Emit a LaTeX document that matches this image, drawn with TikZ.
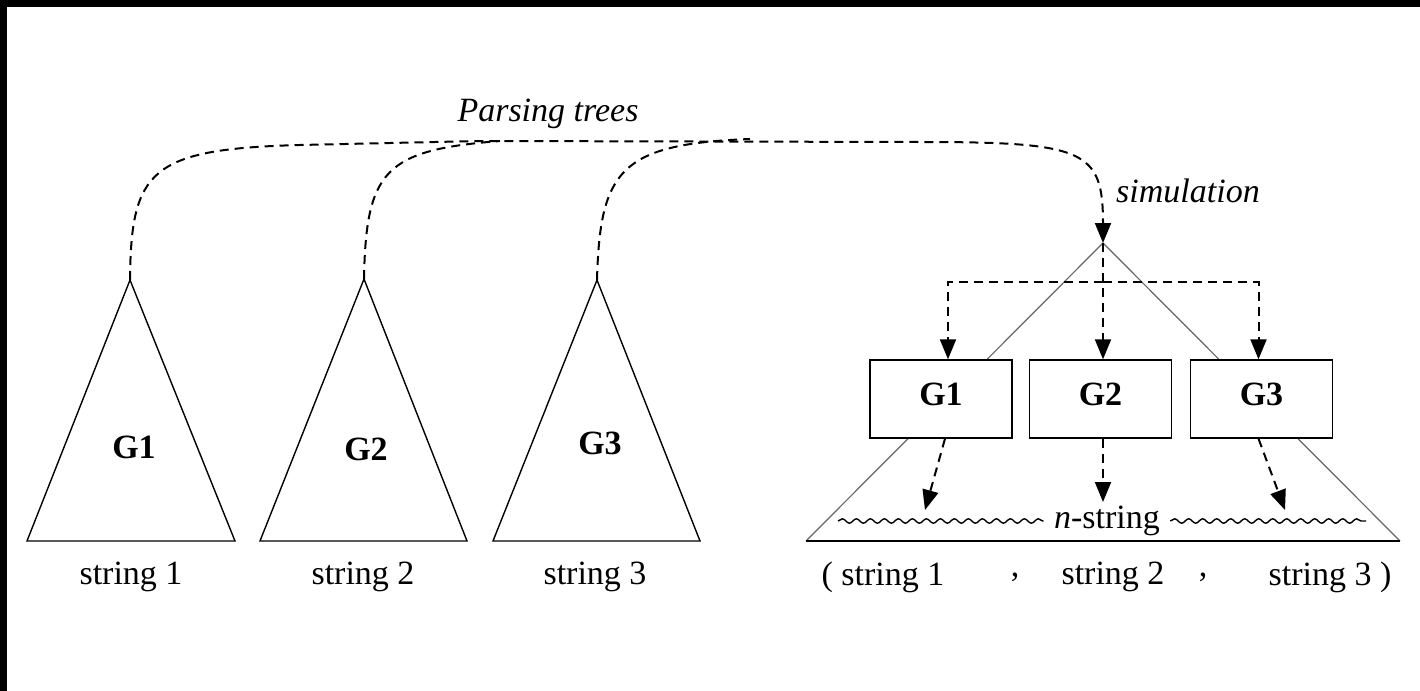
\documentclass[tikz,border=0pt]{standalone}
\usepackage{fontspec}
\setmainfont{Liberation Serif}
\usetikzlibrary{arrows.meta,decorations.pathmorphing}

\tikzset{
    dashline/.style={line width=1pt, dash pattern=on 4.5pt off 3pt},
    dasharrow/.style={dashline, -{Triangle[width=8pt,length=10pt]}},
    treeline/.style={line width=0.7pt, line join=miter},
    wave/.style={decorate, decoration={snake, amplitude=1.1pt, segment length=7pt}, line width=0.7pt}
}

\begin{document}
\begin{tikzpicture}[x=0.5pt, y=-0.5pt, every node/.style={font=\fontsize{17}{20}\selectfont}]
    % frame
    \fill[black] (0,0) rectangle (1420,691);
    \fill[white] (7,7) rectangle (1420,691);
    \useasboundingbox (0,0) rectangle (1420,691);

    % left trees
    \coordinate (a1) at (130,280);
    \coordinate (a2) at (364,279);
    \coordinate (a3) at (597,280);
    \draw[treeline] (a1) -- (27,541) -- (235,541) -- cycle;
    \draw[treeline] (a2) -- (260,541) -- (467,541) -- cycle;
    \draw[treeline] (a3) -- (493,541) -- (700,541) -- cycle;

    \begin{scope}[every node/.style={font=\fontsize{17}{20}\selectfont\bfseries}]
        \node (t1) at (134,447) {G1};
        \node (t2) at (366,449) {G2};
        \node (t3) at (600,443) {G3};
    \end{scope}

    \node (s1) at (131,577) {string 1};
    \node (s2) at (363,577) {string 2};
    \node (s3) at (595,577) {string 3};

    % right tree
    \coordinate (top) at (1103,243);
    \coordinate (split) at (1103,282);
    \draw[gray!80!black, line width=0.6pt] (top) -- (806,541);
    \draw[gray!80!black, line width=0.6pt] (top) -- (1400,541);
    \draw[line width=1pt] (806,541) -- (1400,541);

    \begin{scope}[every node/.style={draw, fill=white, line width=0.7pt, minimum width=71pt, minimum height=39pt, inner sep=0pt, text height=11pt, text depth=5pt, font=\fontsize{17}{20}\selectfont\bfseries}]
        \node (g1) at (941,399) {G1};
        \node (g2) at (1100.5,399) {G2};
        \node (g3) at (1261.5,399) {G3};
    \end{scope}

    % dashed links
    \coordinate (j1) at (480,141);
    \coordinate (j2) at (500,141);
    \coordinate (j3) at (750,139);
    \draw[dasharrow] (a1) .. controls (131,170) and (150,149) .. (300,145)
        -- (j1) -- (920,142) .. controls (1085,142) and (1103,150) .. (top);
    \draw[dashline] (a2) .. controls (366,170) and (385,150) .. (j2);
    \draw[dashline] (a3) .. controls (600,170) and (620,144) .. (j3);

    \node[font=\fontsize{17}{20}\selectfont\itshape] (pt) at (548,114) {Parsing trees};
    \node[font=\fontsize{17}{20}\selectfont\itshape] (sim) at (1188,191) {simulation};

    \draw[dasharrow] (top) -- (top |- g2.north);
    \draw[dasharrow] (split) -| ([xshift=3.5pt]g1.north);
    \draw[dasharrow] (split) -| ([xshift=-1.5pt]g3.north);

    \coordinate (e1) at (925,510);
    \coordinate (e2) at (1103,502);
    \coordinate (e3) at (1285,510);
    \draw[dasharrow] ([xshift=2pt]g1.south) -- (e1);
    \draw[dasharrow] (g2.south -| e2) -- (e2);
    \draw[dasharrow] ([xshift=-1.5pt]g3.south) -- (e3);

    % n-string
    \node[inner xsep=5pt, inner ysep=2pt] (ns) at (1107,521) {\textit{n}-string};
    \draw[wave] (838,521) -- (ns.west |- 0,521);
    \draw[wave] (ns.east |- 0,521) -- (1366,521);

    \node (b1) at (883,577) {( string 1};
    \node (c1) at (1015,577) {,};
    \node (b2) at (1113,577) {string 2};
    \node (c2) at (1203,577) {,};
    \node (b3) at (1330,577) {string 3 )};
\end{tikzpicture}
\end{document}
